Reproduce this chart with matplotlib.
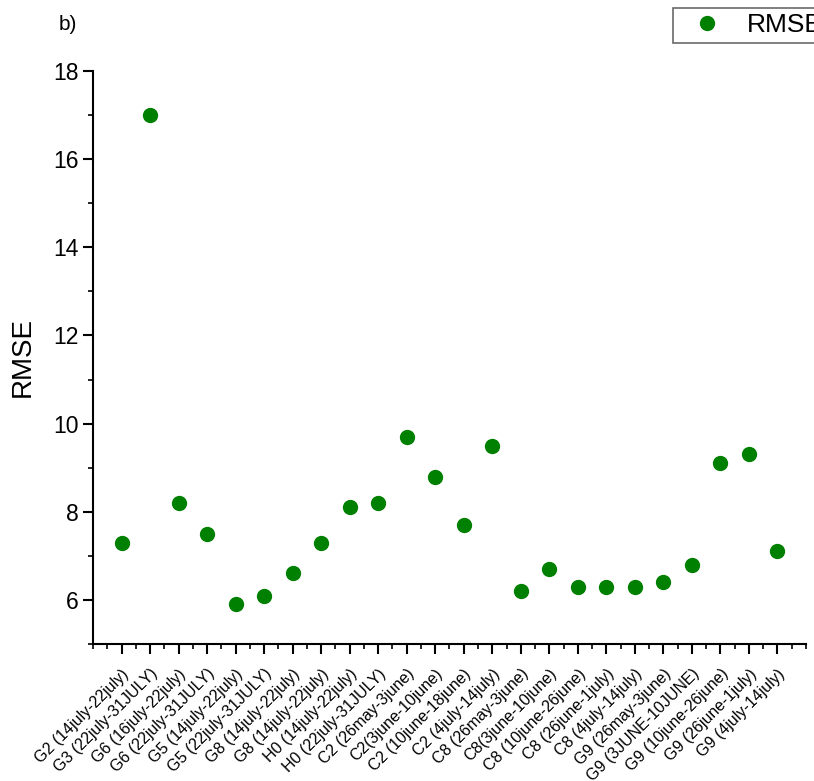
import matplotlib
matplotlib.use("Agg")
import matplotlib.pyplot as plt
from matplotlib.ticker import MultipleLocator

plt.rcParams['font.family'] = ['Liberation Sans', 'DejaVu Sans']

labels = ["G2 (14july-22july)", "G3 (22july-31JULY)", "G6 (16july-22july)",
          "G6 (22july-31JULY)", "G5 (14july-22july)", "G5 (22july-31JULY)",
          "G8 (14july-22july)", "G8 (14july-22july)", "H0 (14july-22july)",
          "H0 (22july-31JULY)", "C2 (26may-3june)", "C2(3june-10june)",
          "C2 (10june-18june)", "C2 (4july-14july)", "C8 (26may-3june)",
          "C8(3june-10june)", "C8 (10june-26june)", "C8 (26june-1july)",
          "C8 (4july-14july)", "G9 (26may-3june)", "G9 (3JUNE-10JUNE)",
          "G9 (10june-26june)", "G9 (26june-1july)", "G9 (4july-14july)"]
rmse = [7.3, 17.0, 8.2, 7.5, 5.9, 6.1, 6.6, 7.3, 8.1, 8.2, 9.7, 8.8,
        7.7, 9.5, 6.2, 6.7, 6.3, 6.3, 6.3, 6.4, 6.8, 9.1, 9.3, 7.1]

fig = plt.figure(figsize=(8.14, 7.81), dpi=100)
ax = fig.add_axes([93/814, 1-644/781, (806-93)/814, (644-71)/781])
x = list(range(len(labels)))
ax.plot(x, rmse, 'o', color='#008000', markersize=10, linestyle='none', label='RMSE')

ax.set_xlim(-1, 24)
ax.set_ylim(5, 18)
ax.spines['top'].set_visible(False)
ax.spines['right'].set_visible(False)
ax.spines['left'].set_linewidth(1.5)
ax.spines['bottom'].set_linewidth(1.5)
ax.set_xticks(x)
ax.set_xticklabels(labels, rotation=45, ha='right', rotation_mode='anchor', fontsize=11.5)
ax.xaxis.set_minor_locator(MultipleLocator(0.5))
ax.yaxis.set_major_locator(MultipleLocator(2))
ax.yaxis.set_minor_locator(MultipleLocator(1))
ax.tick_params(axis='both', which='major', direction='out', length=7, width=1.5, labelsize=16.5)
ax.tick_params(axis='x', which='major', labelsize=11.5, pad=9)
ax.tick_params(axis='both', which='minor', direction='out', length=3.5, width=1.2)
ax.set_ylabel('RMSE', fontsize=20, labelpad=12)

fig.text(59/814, 1-24/781, 'b)', fontsize=15, va='center', ha='left')

leg = fig.legend(loc='upper left', bbox_to_anchor=(673/814, 1-8/781), fontsize=19,
                 frameon=True, fancybox=False, edgecolor='#444444', borderpad=0.2,
                 handlelength=2.2, handletextpad=0.4, borderaxespad=0)
leg.get_frame().set_linewidth(1.2)

fig.savefig('out.png', dpi=100)
